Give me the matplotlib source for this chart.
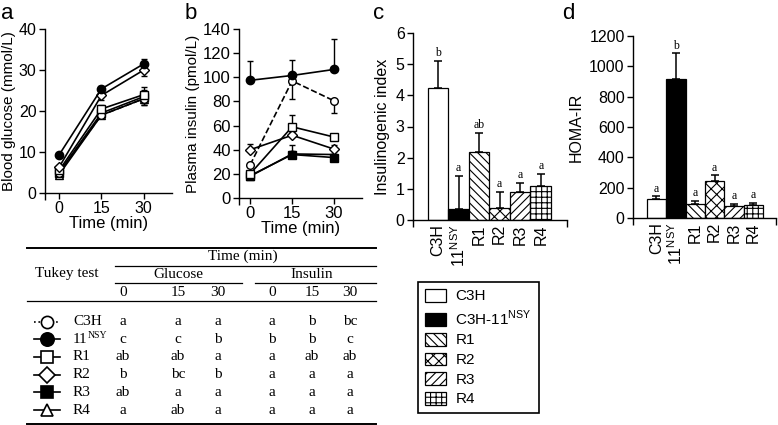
import numpy as np
import matplotlib.pyplot as plt
from matplotlib.patches import Patch

plt.rcParams['font.family'] = ['Liberation Sans', 'DejaVu Sans']
plt.rcParams['mathtext.fontset'] = 'custom'
plt.rcParams['mathtext.rm'] = 'Liberation Sans'
plt.rcParams['hatch.linewidth'] = 0.8
plt.rcParams['axes.linewidth'] = 1.0

W, H = 778, 425

# ---- a/b: time course ----
time_min = [0, 15, 30]

glu_c3h = [5.0, 19.0, 23.0]
glu_nsy = [9.3, 25.4, 31.5]
glu_r1 = [5.5, 20.5, 24.0]
glu_r2 = [6.3, 23.8, 30.0]
glu_r3 = [5.0, 19.5, 23.5]
glu_r4 = [4.5, 19.0, 23.0]
glu_err_c3h = [0.5, 0.8, 1.5]
glu_err_nsy = [0.5, 0.8, 1.2]
glu_err_r1 = [0.5, 1.0, 1.8]
glu_err_r2 = [0.5, 1.0, 1.5]
glu_err_r3 = [0.5, 0.8, 1.5]
glu_err_r4 = [0.5, 0.8, 1.5]

ins_c3h = [27.5, 97.0, 80.5]
ins_nsy = [97.5, 101.5, 106.5]
ins_r1 = [20.0, 59.0, 50.5]
ins_r2 = [40.0, 52.0, 40.5]
ins_r3 = [18.5, 36.0, 33.5]
ins_r4 = [18.0, 36.5, 36.0]
ins_lo_c3h = [0, 15, 10]
ins_hi_c3h = [0, 0, 0]
ins_lo_nsy = [0, 0, 0]
ins_hi_nsy = [16, 13, 25]
ins_lo_r1 = [0, 0, 0]
ins_hi_r1 = [2, 10, 2]
ins_lo_r2 = [0, 0, 0]
ins_hi_r2 = [5, 3, 3]
ins_lo_r3 = [2, 3, 3]
ins_hi_r3 = [2, 3, 3]
ins_lo_r4 = [0, 0, 0]
ins_hi_r4 = [2, 7, 3]

# ---- c/d: bars ----
bar_groups = ['C3H', '11$^{\\rm NSY}$', 'R1', 'R2', 'R3', 'R4']
ii_mean = [4.22, 0.34, 2.18, 0.37, 0.90, 1.09]
ii_err = [0.88, 1.08, 0.60, 0.53, 0.29, 0.39]
ii_letters = ['b', 'a', 'ab', 'a', 'a', 'a']
homa_mean = [125, 914, 94, 245, 77, 83]
homa_err = [17, 171, 20, 36, 17, 15]
homa_letters = ['a', 'b', 'a', 'a', 'a', 'a']
legend_labels = ['C3H', 'C3H-11$^{\\rm NSY}$', 'R1', 'R2', 'R3', 'R4']

# ---- table ----
tukey_rows = ['C3H', '11', 'R1', 'R2', 'R3', 'R4']
tukey_glu0 = ['a', 'c', 'ab', 'b', 'ab', 'a']
tukey_glu15 = ['a', 'c', 'ab', 'bc', 'a', 'ab']
tukey_glu30 = ['a', 'b', 'a', 'b', 'a', 'a']
tukey_ins0 = ['a', 'b', 'a', 'a', 'a', 'a']
tukey_ins15 = ['b', 'b', 'ab', 'a', 'a', 'a']
tukey_ins30 = ['bc', 'c', 'ab', 'a', 'a', 'a']
tukey_cols = ['0', '15', '30', '0', '15', '30']

faces = ['white', 'black', 'white', 'white', 'white', 'white']
hatches = ['', '', '\\\\\\\\', 'xxx', '////', '+++']


def box(l, r, t, b):
    return [l / W, 1 - b / H, (r - l) / W, (b - t) / H]


fig = plt.figure(figsize=(W / 100, H / 100), dpi=100)

# line styles for each strain
st = {
    'c3h': dict(marker='o', mfc='white', ls='--', ms=5.5),
    'nsy': dict(marker='o', mfc='black', ls='-', ms=6),
    'r1': dict(marker='s', mfc='white', ls='-', ms=5.5),
    'r2': dict(marker='D', mfc='white', ls='-', ms=5),
    'r3': dict(marker='s', mfc='black', ls='-', ms=5.5),
    'r4': dict(marker='^', mfc='white', ls='-', ms=5.5),
}


def style_axes(ax, ends):
    for s in ['top', 'right']:
        ax.spines[s].set_visible(False)
    ax.tick_params(direction='out', length=4, width=1, labelsize=11.5, pad=2)
    lo, hi = ax.get_xlim()
    ax.set_xticks([lo, hi][:ends], minor=True)
    ax.tick_params(axis='x', which='minor', length=5, width=1)


# panel a
axa = fig.add_axes(box(45, 172, 29, 193))
for y, e, k in [(glu_r4, glu_err_r4, 'r4'), (glu_r3, glu_err_r3, 'r3'),
                (glu_c3h, glu_err_c3h, 'c3h'), (glu_r1, glu_err_r1, 'r1'),
                (glu_r2, glu_err_r2, 'r2'), (glu_nsy, glu_err_nsy, 'nsy')]:
    axa.errorbar(time_min, y, yerr=e, color='black', mec='black', lw=1.2,
                 elinewidth=1, capsize=2.5, capthick=1, **st[k])
axa.set_xlim(-5, 40)
axa.set_ylim(0, 40)
axa.set_xticks(time_min)
axa.set_yticks([0, 10, 20, 30, 40])
axa.set_xlabel('Time (min)', fontsize=12, labelpad=0)
axa.set_ylabel('Blood glucose (mmol/L)', fontsize=11, labelpad=2)
style_axes(axa, 1)

# panel b
axb = fig.add_axes(box(239, 362, 29, 198))
for y, lo, hi, k in [(ins_r4, ins_lo_r4, ins_hi_r4, 'r4'),
                     (ins_r3, ins_lo_r3, ins_hi_r3, 'r3'),
                     (ins_r2, ins_lo_r2, ins_hi_r2, 'r2'),
                     (ins_r1, ins_lo_r1, ins_hi_r1, 'r1'),
                     (ins_c3h, ins_lo_c3h, ins_hi_c3h, 'c3h'),
                     (ins_nsy, ins_lo_nsy, ins_hi_nsy, 'nsy')]:
    axb.errorbar(time_min, y, yerr=[lo, hi], color='black', mec='black', lw=1.2,
                 elinewidth=1, capsize=2.5, capthick=1, **st[k])
axb.set_xlim(-4, 40)
axb.set_ylim(0, 140)
axb.set_xticks(time_min)
axb.set_yticks(range(0, 141, 20))
axb.set_xlabel('Time (min)', fontsize=12, labelpad=0)
axb.set_ylabel('Plasma insulin (pmol/L)', fontsize=11, labelpad=2)
style_axes(axb, 1)
axb.tick_params(labelsize=12)


def bar_panel(ax, mean, err, letters, off):
    x = np.arange(len(mean))
    ax.bar(x, mean, width=1, color=faces, edgecolor='black', hatch=hatches,
           linewidth=0.9, zorder=2)
    ax.errorbar(x, mean, yerr=[[0] * len(err), err], fmt='none',
                ecolor='black', elinewidth=1.1, capsize=3, capthick=1.1, zorder=3)
    for xi, m, e, lt in zip(x, mean, err, letters):
        ax.text(xi, m + e + off, lt, ha='center', va='bottom',
                fontfamily='Liberation Serif', fontsize=8.5)
    ax.set_xticks(x)
    ax.set_xticklabels(bar_groups, rotation=90, fontsize=11.5)


# panel c
axc = fig.add_axes(box(413, 567, 33, 220))
bar_panel(axc, ii_mean, ii_err, ii_letters, 0.06)
axc.set_xlim(-1.23, 6.28)
axc.set_ylim(0, 6)
axc.set_yticks(range(0, 7))
axc.set_ylabel('Insulinogenic index', fontsize=11.5, labelpad=4)
style_axes(axc, 2)
axc.tick_params(axis='x', which='major', length=0, pad=3)

# panel d
axd = fig.add_axes(box(633, 776, 36, 218))
bar_panel(axd, homa_mean, homa_err, homa_letters, 12)
axd.set_xlim(-1.21, 6.17)
axd.set_ylim(0, 1200)
axd.set_yticks(range(0, 1201, 200))
axd.set_ylabel('HOMA-IR', fontsize=11.5, labelpad=4)
style_axes(axd, 2)
axd.tick_params(axis='x', which='major', length=0, pad=3)

for lt, xp in [('a', 1), ('b', 185), ('c', 373), ('d', 562)]:
    fig.text(xp / W, 1 - 19 / H, lt, fontsize=16, va='baseline', ha='left')

# legend
handles = [Patch(facecolor=f, edgecolor='black', hatch=h, linewidth=0.9)
           for f, h in zip(faces, hatches)]
leg = fig.legend(handles, legend_labels, loc='upper left',
                 bbox_to_anchor=(418 / W, 1 - 282 / H), fontsize=11,
                 frameon=True, fancybox=False, edgecolor='black', framealpha=1,
                 handlelength=1.4, handleheight=0.9, labelspacing=0.33,
                 borderpad=0.45, handletextpad=0.6, borderaxespad=0)
leg.get_frame().set_linewidth(1.2)

# table
axt = fig.add_axes([0, 0, 1, 1], zorder=-1)
axt.set_xlim(0, W)
axt.set_ylim(H, 0)
axt.axis('off')
serif = dict(fontfamily='Liberation Serif', fontsize=11)
axt.plot([27, 376], [248, 248], color='black', lw=1.4)
axt.plot([115, 376], [266, 266], color='black', lw=0.9)
axt.plot([115, 242], [283, 283], color='black', lw=0.9)
axt.plot([255, 376], [283, 283], color='black', lw=0.9)
axt.plot([27, 376], [301, 301], color='black', lw=0.9)
axt.plot([27, 376], [424, 424], color='black', lw=1.4)
axt.text(243, 256, 'Time (min)', ha='center', va='center', **serif)
axt.text(67, 273, 'Tukey test', ha='center', va='center', **serif)
axt.text(178, 275, 'Glucose', ha='center', va='center', **serif)
axt.text(312, 275, 'Insulin', ha='center', va='center', **serif)
col_x = [123, 178, 218, 272, 312, 350]
for cx, c in zip(col_x, tukey_cols):
    axt.text(cx, 293, c, ha='center', va='center', **serif)
cols = [tukey_glu0, tukey_glu15, tukey_glu30, tukey_ins0, tukey_ins15, tukey_ins30]
row_y = 321.5 + 17.7 * np.arange(len(tukey_rows))
for i, (ry, name, k) in enumerate(zip(row_y, tukey_rows,
                                      ['c3h', 'nsy', 'r1', 'r2', 'r3', 'r4'])):
    s = st[k]
    axt.plot([34, 60], [ry, ry], color='black', lw=1.2,
             ls=':' if k == 'c3h' else '-')
    axt.plot([47], [ry], marker=s['marker'], mfc=s['mfc'], mec='black',
             mew=1.2, ms=s['ms'] * 1.6, ls='none')
    axt.text(73, ry, name, ha='left', va='center', **serif)
    if k == 'nsy':
        axt.text(88, ry - 4, 'NSY', ha='left', va='center',
                 fontfamily='Liberation Serif', fontsize=7)
    for cx, col in zip(col_x, cols):
        axt.text(cx, ry, col[i], ha='center', va='center', **serif)

fig.savefig('out.png', dpi=100)
